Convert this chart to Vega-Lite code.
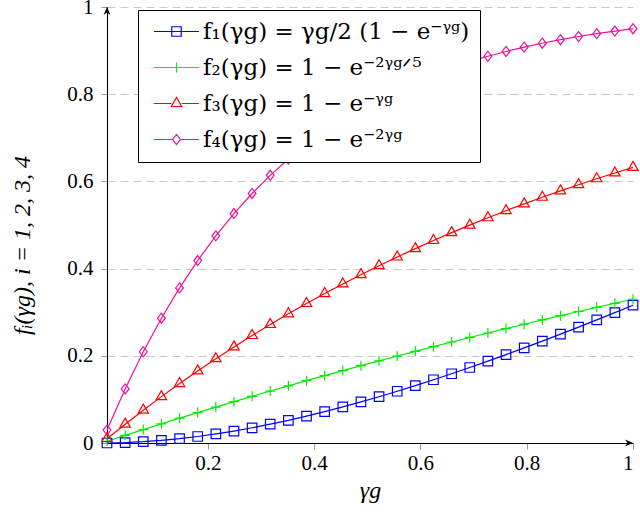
{
  "$schema": "https://vega.github.io/schema/vega-lite/v6.json",
  "width": 526,
  "height": 436,
  "autosize": {"type": "none"},
  "padding": {"left": 107, "top": 7, "right": 7, "bottom": 71},
  "background": "white",
  "config": {
    "view": {"stroke": null},
    "axis": {
      "labelFont": "Liberation Serif",
      "labelFontSize": 21,
      "labelColor": "black",
      "titleFont": "Liberation Serif",
      "titleFontSize": 24,
      "titleFontStyle": "italic",
      "titleFontWeight": "normal",
      "titleColor": "black",
      "domainColor": "black",
      "domainWidth": 1.1,
      "tickColor": "#9a9a9a",
      "tickSize": 6
    }
  },
  "data": {
    "values": [
      {"g": 0.01, "f1": 0.00005, "f2": 0.00399, "f3": 0.00995, "f4": 0.02955},
      {"g": 0.04414, "f1": 0.00095, "f2": 0.01750, "f3": 0.04318, "f4": 0.12402},
      {"g": 0.07828, "f1": 0.00295, "f2": 0.03083, "f3": 0.07529, "f4": 0.20930},
      {"g": 0.11241, "f1": 0.00598, "f2": 0.04397, "f3": 0.10633, "f4": 0.28627},
      {"g": 0.14655, "f1": 0.00999, "f2": 0.05694, "f3": 0.13632, "f4": 0.35574},
      {"g": 0.18069, "f1": 0.01494, "f2": 0.06973, "f3": 0.16531, "f4": 0.41846},
      {"g": 0.21483, "f1": 0.02077, "f2": 0.08234, "f3": 0.19332, "f4": 0.47507},
      {"g": 0.24897, "f1": 0.02744, "f2": 0.09479, "f3": 0.22039, "f4": 0.52616},
      {"g": 0.28310, "f1": 0.03490, "f2": 0.10707, "f3": 0.24656, "f4": 0.57229},
      {"g": 0.31724, "f1": 0.04312, "f2": 0.11918, "f3": 0.27184, "f4": 0.61392},
      {"g": 0.35138, "f1": 0.05205, "f2": 0.13113, "f3": 0.29628, "f4": 0.65150},
      {"g": 0.38552, "f1": 0.06166, "f2": 0.14291, "f3": 0.31990, "f4": 0.68542},
      {"g": 0.41966, "f1": 0.07191, "f2": 0.15453, "f3": 0.34272, "f4": 0.71605},
      {"g": 0.45379, "f1": 0.08277, "f2": 0.16600, "f3": 0.36478, "f4": 0.74368},
      {"g": 0.48793, "f1": 0.09420, "f2": 0.17731, "f3": 0.38610, "f4": 0.76863},
      {"g": 0.52207, "f1": 0.10616, "f2": 0.18847, "f3": 0.40670, "f4": 0.79116},
      {"g": 0.55621, "f1": 0.11864, "f2": 0.19948, "f3": 0.42661, "f4": 0.81148},
      {"g": 0.59034, "f1": 0.13160, "f2": 0.21033, "f3": 0.44585, "f4": 0.82983},
      {"g": 0.62448, "f1": 0.14502, "f2": 0.22104, "f3": 0.46445, "f4": 0.84640},
      {"g": 0.65862, "f1": 0.15887, "f2": 0.23161, "f3": 0.48242, "f4": 0.86135},
      {"g": 0.69276, "f1": 0.17312, "f2": 0.24203, "f3": 0.49980, "f4": 0.87485},
      {"g": 0.72690, "f1": 0.18775, "f2": 0.25231, "f3": 0.51658, "f4": 0.88703},
      {"g": 0.76103, "f1": 0.20274, "f2": 0.26245, "f3": 0.53281, "f4": 0.89803},
      {"g": 0.79517, "f1": 0.21807, "f2": 0.27245, "f3": 0.54849, "f4": 0.90795},
      {"g": 0.82931, "f1": 0.23372, "f2": 0.28232, "f3": 0.56364, "f4": 0.91691},
      {"g": 0.86345, "f1": 0.24966, "f2": 0.29205, "f3": 0.57828, "f4": 0.92500},
      {"g": 0.89759, "f1": 0.26588, "f2": 0.30166, "f3": 0.59244, "f4": 0.93230},
      {"g": 0.93172, "f1": 0.28236, "f2": 0.31113, "f3": 0.60611, "f4": 0.93889},
      {"g": 0.96586, "f1": 0.29909, "f2": 0.32047, "f3": 0.61933, "f4": 0.94484},
      {"g": 1.0, "f1": 0.31606, "f2": 0.32968, "f3": 0.63212, "f4": 0.95021}
    ]
  },
  "transform": [{"fold": ["f1", "f2", "f3", "f4"], "as": ["series", "v"]}],
  "encoding": {
    "x": {
      "field": "g", "type": "quantitative",
      "scale": {"domain": [0.01, 1], "nice": false, "zero": false},
      "axis": {
        "values": [0.2, 0.4, 0.6, 0.8, 1],
        "format": "~g",
        "grid": false,
        "labelPadding": 3,
        "title": "γg",
        "titlePadding": 5
      }
    },
    "y": {
      "field": "v", "type": "quantitative",
      "scale": {"domain": [0, 1], "nice": false},
      "axis": {
        "values": [0, 0.2, 0.4, 0.6, 0.8, 1],
        "format": "~g",
        "grid": true,
        "gridDash": [8, 5],
        "gridColor": "#c8c8c8",
        "gridWidth": 1,
        "labelPadding": 8,
        "title": "fᵢ(γg), i = 1, 2, 3, 4",
        "titleX": -85,
        "titleY": 238,
        "titleAngle": -90,
        "titleAlign": "center",
        "titleBaseline": "middle"
      }
    },
    "color": {
      "field": "series", "type": "nominal",
      "scale": {"domain": ["f1", "f2", "f3", "f4"], "range": ["#0000ff", "#00ee00", "#ff0000", "#ee1199"]},
      "legend": {
        "orient": "none",
        "legendX": 31,
        "legendY": 3,
        "direction": "vertical",
        "title": null,
        "padding": 10,
        "rowPadding": 12,
        "strokeColor": "black",
        "fillColor": "white",
        "cornerRadius": 0,
        "symbolSize": 100,
        "symbolStrokeWidth": 1.2,
        "symbolFillColor": "transparent",
        "symbolOffset": 17,
        "labelOffset": 15,
        "labelFont": "DejaVu Serif",
        "labelFontSize": 23,
        "labelColor": "black",
        "labelLimit": 500,
        "labelExpr": "datum.value === 'f1' ? 'f₁(γg) = γg/2 (1 − e⁻ᵞᵍ)' : datum.value === 'f2' ? 'f₂(γg) = 1 − e⁻²ᵞᵍᐟ⁵' : datum.value === 'f3' ? 'f₃(γg) = 1 − e⁻ᵞᵍ' : 'f₄(γg) = 1 − e⁻²ᵞᵍ'",
        "encode": {
          "symbols": {
            "update": {
              "shape": {"signal": "datum.value === 'f1' ? 'M-4.5,0H4.5M-0.95,-0.95H0.95V0.95H-0.95Z' : datum.value === 'f2' ? 'M-4.5,0H4.5M0,-1V1' : datum.value === 'f3' ? 'M-4.5,0H-1.04M1.04,0H4.5M0,-1.2L1.04,0.6L-1.04,0.6Z' : 'M-4.5,0H-0.78M0.78,0H4.5M0,-1L0.78,0L0,1L-0.78,0Z'"},
              "stroke": {"signal": "scale('color', datum.value)"},
              "fill": {"value": "transparent"},
              "strokeWidth": {"value": 1.2}
            }
          }
        }
      }
    }
  },
  "layer": [
    {
      "mark": {"type": "line", "strokeWidth": 1.2}
    },
    {
      "transform": [{"filter": "datum.series === 'f1'"}],
      "mark": {"type": "point", "filled": false, "strokeWidth": 1.2, "size": 100, "opacity": 1, "shape": "M-0.95,-0.95H0.95V0.95H-0.95Z"}
    },
    {
      "transform": [{"filter": "datum.series === 'f2'"}],
      "mark": {"type": "point", "filled": false, "strokeWidth": 1.2, "size": 100, "opacity": 1, "shape": "M-1,0H1M0,-1V1"}
    },
    {
      "transform": [{"filter": "datum.series === 'f3'"}],
      "mark": {"type": "point", "filled": false, "strokeWidth": 1.2, "size": 100, "opacity": 1, "shape": "M0,-1.2L1.04,0.6L-1.04,0.6Z"}
    },
    {
      "transform": [{"filter": "datum.series === 'f4'"}],
      "mark": {"type": "point", "filled": false, "strokeWidth": 1.2, "size": 100, "opacity": 1, "shape": "M0,-1L0.78,0L0,1L-0.78,0Z"}
    },
    {
      "data": {"values": [{"g": 1, "v": 0}]},
      "mark": {"type": "point", "shape": "M0,0L-1.6,-0.7L-1.1,0L-1.6,0.7Z", "size": 100, "filled": true, "color": "black", "opacity": 1},
      "encoding": {"color": null}
    },
    {
      "data": {"values": [{"g": 0.01, "v": 1}]},
      "mark": {"type": "point", "shape": "M0,0L-0.7,1.6L0,1.1L0.7,1.6Z", "size": 100, "filled": true, "color": "black", "opacity": 1},
      "encoding": {"color": null}
    }
  ]
}
